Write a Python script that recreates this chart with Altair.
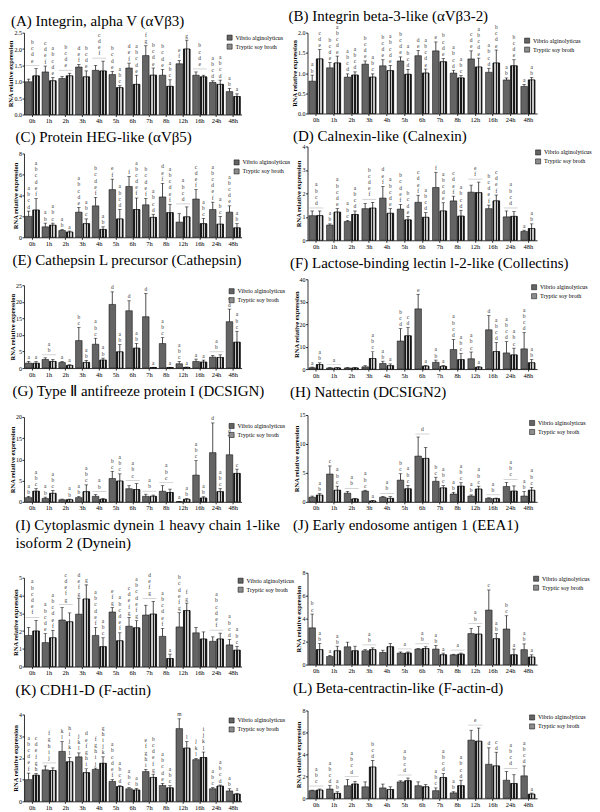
import altair as alt
import pandas as pd

FONT = "Liberation Serif"
HOURS = ["0h", "1h", "2h", "3h", "4h", "5h", "6h", "7h", "8h", "12h", "16h", "24h", "48h"]
SERIES = ["Vibrio alginolyticus", "Tryptic soy broth"]
SERIES_COLORS = ["#646464", "#8c8c8c"]

# ---------------- (A) ----------------
A_title = "(A) Integrin, alpha V (αVβ3)"
A_ticks = [0.0, 0.5, 1.0, 1.5, 2.0, 2.5]
A_vib = [1.0, 1.3, 1.1, 1.45, 1.35, 1.22, 1.42, 1.8, 1.2, 1.55, 1.2, 0.98, 0.7]
A_vib_err = [0.08, 0.18, 0.06, 0.08, 0.15, 0.1, 0.15, 0.3, 0.18, 0.1, 0.1, 0.05, 0.1]
A_tsb = [1.18, 1.03, 1.18, 1.15, 1.33, 0.82, 0.92, 1.2, 0.86, 2.0, 1.15, 0.92, 0.55]
A_tsb_err = [0.22, 0.1, 0.08, 0.18, 0.3, 0.06, 0.28, 0.22, 0.2, 0.27, 0.05, 0.13, 0.08]
A_let_v = ["", "cdef", "", "def", "", "bcde", "def", "fg", "bcde", "ef", "", "abcd", "ab"]
A_let_t = ["", "abcde", "", "bcde", "", "abc", "abcde", "bcde", "abc", "g", "", "abcd", "a"]
A_let_both = ["bcde", "", "bcde", "", "cdef", "", "", "", "", "", "bcde", "", ""]

# ---------------- (B) ----------------
B_title = "(B) Integrin beta-3-like (αVβ3-2)"
B_ticks = [0.0, 0.5, 1.0, 1.5, 2.0]
B_vib = [0.8, 1.13, 0.9, 1.22, 1.18, 1.3, 1.43, 1.55, 1.0, 1.35, 1.02, 0.83, 0.67]
B_vib_err = [0.15, 0.13, 0.08, 0.08, 0.15, 0.1, 0.13, 0.22, 0.07, 0.2, 0.1, 0.05, 0.05]
B_tsb = [1.35, 1.25, 0.95, 0.9, 1.06, 0.97, 1.0, 1.28, 0.88, 1.15, 1.25, 1.18, 0.83]
B_tsb_err = [0.23, 0.17, 0.08, 0.08, 0.13, 0.12, 0.1, 0.08, 0.06, 0.22, 0.32, 0.15, 0.06]
B_let_v = ["ab", "bcde", "abcd", "bcde", "bcde", "bcde", "de", "e", "abcd", "cde", "abcd", "ab", "a"]
B_let_t = ["cde", "abcde", "abcd", "abc", "abcde", "abcd", "abcde", "bcde", "abc", "abcde", "bcde", "bcde", "ab"]
B_let_both = [""] * 13

# ---------------- (C) ----------------
C_title = "(C) Protein HEG-like (αVβ5)"
C_ticks = [0, 2, 4, 6, 8]
C_vib = [2.0, 1.0, 0.65, 2.4, 3.0, 4.55, 4.85, 3.1, 3.85, 1.45, 3.65, 2.65, 2.4]
C_vib_err = [0.5, 0.35, 0.1, 0.45, 0.8, 1.0, 0.95, 0.6, 1.3, 0.8, 0.9, 0.7, 0.6]
C_tsb = [2.6, 1.15, 0.5, 1.3, 0.75, 1.75, 2.65, 1.9, 2.35, 1.95, 1.3, 1.25, 0.9]
C_tsb_err = [1.1, 0.2, 0.1, 0.45, 0.25, 0.9, 1.1, 0.3, 0.8, 0.95, 0.5, 0.75, 0.4]
C_let_v = ["abcd", "ab", "ab", "abcde", "bcdef", "ef", "f", "bcdef", "def", "", "cdef", "abcdef", "abcde"]
C_let_t = ["abcdef", "abc", "a", "abc", "ab", "abcd", "abcdef", "abcd", "abcdef", "", "abc", "abc", "ab"]
C_let_both = ["", "", "", "", "", "", "", "", "", "abcd", "", "", ""]

# ---------------- (D) ----------------
D_title = "(D) Calnexin-like (Calnexin)"
D_ticks = [0, 1, 2, 3, 4]
D_vib = [1.05, 0.65, 0.8, 1.35, 1.8, 1.33, 1.62, 2.25, 1.68, 2.05, 1.35, 1.0, 0.38]
D_vib_err = [0.2, 0.05, 0.05, 0.22, 0.5, 0.2, 0.3, 0.65, 0.2, 0.3, 0.15, 0.25, 0.05]
D_tsb = [1.05, 1.2, 1.1, 1.37, 1.15, 0.87, 0.98, 1.25, 1.03, 2.03, 1.68, 1.02, 0.5]
D_tsb_err = [0.2, 0.15, 0.15, 0.25, 0.2, 0.15, 0.2, 0.35, 0.25, 0.45, 0.25, 0.2, 0.2]
D_let_v = ["", "ab", "abc", "", "def", "bcdef", "cdef", "f", "cdef", "", "bcdef", "", "a"]
D_let_t = ["", "abcde", "abcd", "", "abcde", "bcde", "abcd", "abcde", "abcd", "", "cdef", "", "ab"]
D_let_both = ["abcd", "", "", "bcdef", "", "", "", "", "", "ef", "", "abcd", ""]

# ---------------- (E) ----------------
E_title = "(E) Cathepsin L precursor (Cathepsin)"
E_ticks = [0, 5, 10, 15, 20, 25]
E_vib = [1.5, 2.6, 1.7, 8.3, 7.2, 19.2, 17.3, 15.5, 7.4, 1.3, 2.0, 3.3, 14.0]
E_vib_err = [0.5, 0.5, 0.3, 4.0, 1.8, 3.8, 3.0, 7.0, 1.8, 0.7, 0.7, 0.5, 3.8]
E_tsb = [1.45, 2.0, 0.8, 1.7, 2.4, 4.9, 6.0, 0.15, 0.15, 0.2, 1.8, 3.2, 7.8]
E_tsb_err = [0.5, 0.6, 0.2, 0.6, 0.6, 2.2, 1.4, 0.1, 0.1, 0.1, 0.6, 0.8, 3.3]
E_let_v = ["a", "", "a", "bc", "abc", "d", "d", "d", "abc", "abc", "a", "", "cd"]
E_let_t = ["a", "", "a", "ab", "ab", "ab", "ab", "a", "a", "a", "a", "", "abc"]
E_let_both = ["", "ab", "", "", "", "", "", "", "", "", "", "ab", ""]

# ---------------- (F) ----------------
F_title = "(F) Lactose-binding lectin l-2-like (Collectins)"
F_ticks = [0, 10, 20, 30, 40]
F_vib = [0.6, 0.5, 0.5, 1.0, 2.5, 12.5, 26.8, 3.0, 8.7, 4.6, 17.5, 7.2, 9.0]
F_vib_err = [0.3, 0.2, 0.2, 0.5, 1.0, 5.5, 6.5, 1.0, 4.5, 3.0, 6.3, 5.0, 7.2]
F_tsb = [2.0, 0.5, 0.5, 4.7, 1.5, 14.8, 1.3, 1.2, 4.2, 0.8, 7.8, 6.3, 2.8]
F_tsb_err = [0.8, 0.2, 0.2, 3.0, 0.8, 3.8, 0.3, 0.4, 2.7, 0.3, 4.0, 3.0, 1.5]
F_let_v = ["a", "", "", "", "ab", "bcd", "e", "ab", "abcd", "abc", "d", "abcd", "abcd"]
F_let_t = ["ab", "", "", "abc", "a", "cd", "a", "a", "abc", "a", "abcd", "abc", "ab"]
F_let_both = ["", "a", "", "", "", "", "", "", "", "", "", "", ""]

# ---------------- (G) ----------------
G_title = "(G) Type Ⅱ antifreeze protein I (DCSIGN)"
G_ticks = [0, 5, 10, 15, 20]
G_vib = [1.0, 0.8, 0.5, 1.0, 1.3, 5.5, 3.1, 1.3, 2.5, 0.05, 6.3, 11.6, 11.1]
G_vib_err = [0.3, 0.3, 0.15, 0.3, 0.4, 1.7, 0.7, 0.5, 1.3, 0.05, 3.4, 7.0, 4.5]
G_tsb = [2.5, 2.0, 0.5, 2.4, 0.6, 4.9, 2.9, 1.3, 2.2, 0.6, 0.9, 2.4, 6.7]
G_tsb_err = [0.6, 0.7, 0.15, 1.6, 0.2, 1.7, 1.4, 0.3, 0.8, 0.2, 0.3, 0.7, 1.0]
G_let_v = ["ab", "ab", "", "ab", "", "bc", "", "", "", "a", "abc", "d", "d"]
G_let_t = ["abc", "abc", "ab", "abc", "", "abc", "", "", "", "ab", "ab", "abc", "c"]
G_let_both = ["", "", "", "", "ab", "", "abc", "ab", "abc", "", "", "", ""]

# ---------------- (H) ----------------
H_title = "(H) Nattectin (DCSIGN2)"
H_ticks = [0, 5, 10, 15]
H_vib = [0.8, 4.8, 1.5, 1.85, 0.8, 3.75, 7.9, 3.55, 1.35, 1.0, 0.6, 2.65, 1.0]
H_vib_err = [0.2, 1.4, 0.3, 0.15, 0.15, 1.1, 3.3, 0.7, 0.3, 0.2, 0.1, 0.7, 0.8]
H_tsb = [1.15, 2.0, 0.5, 0.15, 0.6, 2.25, 7.5, 2.4, 2.7, 2.2, 0.55, 1.85, 2.0]
H_tsb_err = [0.3, 0.7, 0.1, 0.1, 0.3, 0.6, 1.9, 0.4, 0.6, 0.5, 0.1, 0.9, 0.5]
H_let_v = ["", "c", "", "abc", "", "bc", "", "bc", "ab", "ab", "", "", "ab"]
H_let_t = ["ab", "abc", "", "a", "", "abc", "", "abc", "abc", "abc", "", "", "abc"]
H_let_both = ["", "", "ab", "", "ab", "", "d", "", "", "", "ab", "abc", ""]

# ---------------- (I) ----------------
I_title = ["(I) Cytoplasmic dynein 1 heavy chain 1-like", "isoform 2 (Dynein)"]
I_ticks = [0, 1, 2, 3, 4, 5]
I_vib = [1.75, 1.35, 2.62, 2.95, 1.75, 3.07, 2.27, 2.9, 1.7, 2.23, 1.9, 1.42, 1.22]
I_vib_err = [0.45, 0.5, 0.7, 0.9, 0.45, 0.25, 0.5, 0.55, 0.45, 0.8, 0.3, 0.25, 0.3]
I_tsb = [2.0, 1.62, 2.52, 3.8, 1.12, 1.45, 2.18, 2.95, 0.45, 3.15, 1.55, 1.55, 0.92]
I_tsb_err = [0.6, 0.42, 0.5, 0.8, 0.5, 0.45, 0.4, 0.72, 0.25, 0.42, 0.4, 0.33, 0.22]
I_let_v = ["", "abcde", "", "defg", "abcdef", "efg", "cdefg", "", "abcdef", "bcdefg", "", "", "abcd"]
I_let_t = ["", "abcdef", "", "g", "abc", "abcdef", "abcdefg", "", "a", "fg", "", "", "abc"]
I_let_both = ["abcdef", "", "cdefg", "", "", "", "", "defg", "", "", "", "abcdef", ""]

# ---------------- (J) ----------------
J_title = "(J) Early endosome antigen 1 (EEA1)"
J_ticks = [0, 2, 4, 6, 8]
J_vib = [3.2, 0.7, 1.55, 1.2, 1.05, 1.0, 1.35, 1.35, 0.85, 2.7, 4.75, 3.1, 1.3]
J_vib_err = [1.2, 0.1, 0.4, 0.1, 0.2, 0.1, 0.05, 0.3, 0.05, 0.45, 1.75, 1.15, 0.5]
J_tsb = [1.3, 1.2, 1.2, 1.3, 1.55, 1.0, 1.4, 0.85, 0.9, 2.65, 2.25, 0.85, 0.65]
J_tsb_err = [0.55, 0.4, 0.4, 0.15, 0.3, 0.1, 0.15, 0.15, 0.1, 0.65, 0.45, 0.5, 0.2]
J_let_v = ["bc", "a", "", "", "", "", "", "ab", "", "", "c", "bc", "ab"]
J_let_t = ["ab", "ab", "", "", "", "", "", "a", "", "", "ab", "a", "a"]
J_let_both = ["", "", "", "ab", "", "a", "ab", "", "a", "ab", "", "", ""]

# ---------------- (K) ----------------
K_title = "(K) CDH1-D (F-actin)"
K_ticks = [0, 1, 2, 3, 4]
K_vib = [1.0, 1.45, 2.3, 2.05, 1.47, 0.92, 0.58, 1.37, 0.73, 3.35, 1.92, 0.58, 0.48]
K_vib_err = [0.3, 0.18, 0.45, 0.18, 0.06, 0.08, 0.05, 0.1, 0.1, 0.45, 0.06, 0.05, 0.1]
K_tsb = [1.2, 1.42, 1.82, 1.32, 1.75, 0.68, 0.52, 1.1, 0.62, 2.45, 2.02, 0.7, 0.33]
K_tsb_err = [0.08, 0.12, 0.2, 0.18, 0.3, 0.04, 0.07, 0.15, 0.1, 0.3, 0.25, 0.05, 0.04]
K_let_v = ["abcdef", "", "kl", "jkl", "fghij", "abcdef", "abc", "efghi", "abcde", "m", "jkl", "abc", "ab"]
K_let_t = ["cdefgh", "", "hijkl", "defghi", "ghijk", "abcd", "ab", "bcdefg", "abc", "l", "ijkl", "abcd", "a"]
K_let_both = ["", "fghij", "", "", "", "", "", "", "", "", "", "", ""]

# ---------------- (L) ----------------
L_title = "(L) Beta-centractin-like (F-actin-d)"
L_ticks = [0, 2, 4, 6, 8]
L_vib = [0.7, 0.85, 1.15, 1.05, 0.95, 1.5, 1.15, 0.7, 0.5, 5.3, 3.1, 1.65, 2.05]
L_vib_err = [0.05, 0.3, 0.55, 0.45, 0.35, 0.1, 0.35, 0.25, 0.1, 0.9, 1.5, 0.8, 0.9]
L_tsb = [0.75, 0.45, 1.3, 2.85, 0.8, 1.6, 1.05, 1.9, 1.15, 5.2, 2.95, 1.35, 0.38]
L_tsb_err = [0.1, 0.15, 0.25, 0.6, 0.25, 0.25, 0.2, 0.35, 0.5, 1.2, 1.25, 0.8, 0.1]
L_let_v = ["", "abcd", "", "", "", "", "", "abc", "ab", "", "d", "", "abcd"]
L_let_t = ["", "ab", "", "bcd", "", "", "", "abcd", "abcd", "", "cd", "", "a"]
L_let_both = ["abc", "", "abcd", "", "", "abcd", "", "", "", "e", "", "abcd", ""]

LINE_H = 6.2  # vertical spacing of stacked significance letters (px)

# striped fill standing in for the checkered "Tryptic soy broth" pattern
N_STRIPES = 5
stripe_stops = []
for k in range(N_STRIPES):
    col = "#1a1a1a" if k % 2 == 0 else "#c4c4c4"
    stripe_stops.append(alt.GradientStop(offset=k / N_STRIPES, color=col))
    stripe_stops.append(alt.GradientStop(offset=(k + 1) / N_STRIPES - 0.001, color=col))
STRIPES = alt.LinearGradient(gradient="linear", stops=stripe_stops, x1=0, x2=1, y1=0, y2=0)


def letter_rows(hour, series, top, letters, unit, gap):
    out = []
    n = len(letters)
    for j, ch in enumerate(letters):
        k = n - 1 - j
        out.append({"hour": hour, "series": series, "ly": top + (gap + k * LINE_H) * unit, "ch": ch})
    return out


def make_panel(title, ticks, fmt, vib, vib_err, tsb, tsb_err, let_v, let_t, let_both,
               width, height, lx, ly, toff, tdx):
    unit = (ticks[-1] - ticks[0]) / height  # data units per pixel
    rows, lets, both_rows, both_lets = [], [], [], []
    for i, h in enumerate(HOURS):
        tv = vib[i] + vib_err[i]
        tt = tsb[i] + tsb_err[i]
        rows.append({"hour": h, "series": SERIES[0], "value": vib[i], "top": tv})
        rows.append({"hour": h, "series": SERIES[1], "value": tsb[i], "top": tt})
        lets += letter_rows(h, SERIES[0], tv, let_v[i], unit, 1.5)
        lets += letter_rows(h, SERIES[1], tt, let_t[i], unit, 1.5)
        if let_both[i]:
            m = max(tv, tt)
            both_rows.append({"hour": h, "ly": m + 3 * unit})
            both_lets += letter_rows(h, "", m, let_both[i], unit, 5)
    df = pd.DataFrame(rows)

    xenc = alt.X("hour:N", sort=HOURS,
                 scale=alt.Scale(domain=HOURS, paddingInner=0.16, paddingOuter=0.08),
                 axis=alt.Axis(title=None, labelAngle=0))
    xo = alt.XOffset("series:N", sort=SERIES, scale=alt.Scale(domain=SERIES, paddingInner=0.12))

    def yenc(field):
        return alt.Y(field + ":Q",
                     scale=alt.Scale(domain=[ticks[0], ticks[-1]], nice=False),
                     axis=alt.Axis(values=ticks, format=fmt, title="RNA relative expression"))

    base = alt.Chart(df)
    bars = base.mark_bar(stroke="black", strokeWidth=0.5).encode(
        x=xenc, xOffset=xo, y=yenc("value"),
        fill=alt.Fill("series:N", sort=SERIES,
                      scale=alt.Scale(domain=SERIES, range=SERIES_COLORS),
                      legend=alt.Legend(title=None, orient="none", legendX=lx, legendY=ly,
                                        labelFont=FONT, labelFontSize=6, labelColor="black",
                                        symbolType="square", symbolSize=26,
                                        symbolStrokeColor="black", symbolStrokeWidth=0.5,
                                        rowPadding=1, labelOffset=3, padding=0)),
    )
    tsb_bars = base.transform_filter(alt.datum.series == SERIES[1]).mark_bar(
        fill=STRIPES, stroke="black", strokeWidth=0.5).encode(x=xenc, xOffset=xo, y=yenc("value"))
    rule = base.mark_rule(color="black", strokeWidth=0.7).encode(
        x=xenc, xOffset=xo, y=yenc("value"), y2="top:Q")
    cap = base.mark_tick(orient="horizontal", color="black", size=3.5, thickness=0.7).encode(
        x=xenc, xOffset=xo, y=yenc("top"))
    layers = [bars, tsb_bars, rule, cap]
    if lets:
        txt = alt.Chart(pd.DataFrame(lets)).mark_text(
            baseline="bottom", font=FONT, fontSize=5.5, color="#333333").encode(
            x=xenc, xOffset=xo, y=yenc("ly"), text="ch:N")
        layers.append(txt)
    if both_rows:
        bline = alt.Chart(pd.DataFrame(both_rows)).mark_tick(
            orient="horizontal", color="#a8a8a8", size=14, thickness=0.7).encode(x=xenc, y=yenc("ly"))
        btxt = alt.Chart(pd.DataFrame(both_lets)).mark_text(
            baseline="bottom", font=FONT, fontSize=5.5, color="#333333").encode(
            x=xenc, y=yenc("ly"), text="ch:N")
        layers += [bline, btxt]
    return alt.layer(*layers).properties(
        width=width, height=height,
        title=alt.Title(title, anchor="start", frame="bounds", font=FONT, fontSize=15,
                        fontWeight="normal", color="black", offset=toff, lineHeight=18, dx=tdx),
    )


LW, RW = 218, 230
pA = make_panel(A_title, A_ticks, ".1f", A_vib, A_vib_err, A_tsb, A_tsb_err, A_let_v, A_let_t, A_let_both, LW, 82, 203, 2, 1, 3)
pC = make_panel(C_title, C_ticks, "d", C_vib, C_vib_err, C_tsb, C_tsb_err, C_let_v, C_let_t, C_let_both, LW, 84, 210, 6, 5, 3)
pE = make_panel(E_title, E_ticks, "d", E_vib, E_vib_err, E_tsb, E_tsb_err, E_let_v, E_let_t, E_let_both, LW, 83, 205, 3, 14, 3)
pG = make_panel(G_title, G_ticks, "d", G_vib, G_vib_err, G_tsb, G_tsb_err, G_let_v, G_let_t, G_let_both, LW, 85, 205, 6, 15, 3)
pI = make_panel(I_title, I_ticks, "d", I_vib, I_vib_err, I_tsb, I_tsb_err, I_let_v, I_let_t, I_let_both, LW, 89, 214, 0, 22, 3)
pK = make_panel(K_title, K_ticks, "d", K_vib, K_vib_err, K_tsb, K_tsb_err, K_let_v, K_let_t, K_let_both, LW, 87, 205, 3, 14, 3)

pB = make_panel(B_title, B_ticks, ".1f", B_vib, B_vib_err, B_tsb, B_tsb_err, B_let_v, B_let_t, B_let_both, RW, 81, 217, 5, 1, -3)
pD = make_panel(D_title, D_ticks, "d", D_vib, D_vib_err, D_tsb, D_tsb_err, D_let_v, D_let_t, D_let_both, RW, 94, 228, 3, -1, -3)
pF = make_panel(F_title, F_ticks, "d", F_vib, F_vib_err, F_tsb, F_tsb_err, F_let_v, F_let_t, F_let_both, RW, 90, 224, 5, 5, -3)
pH = make_panel(H_title, H_ticks, "d", H_vib, H_vib_err, H_tsb, H_tsb_err, H_let_v, H_let_t, H_let_both, RW, 87, 222, 5, 12, -3)
pJ = make_panel(J_title, J_ticks, "d", J_vib, J_vib_err, J_tsb, J_tsb_err, J_let_v, J_let_t, J_let_both, RW, 92, 226, 3, 37, -3)
pL = make_panel(L_title, L_ticks, "d", L_vib, L_vib_err, L_tsb, L_tsb_err, L_let_v, L_let_t, L_let_both, RW, 88, 222, 4, 12, -3)

left = alt.vconcat(pA, pC, pE, pG, pI, pK, spacing=6).resolve_scale(
    y="independent", x="independent", fill="independent").resolve_legend(fill="independent")
right = alt.vconcat(pB, pD, pF, pH, pJ, pL, spacing=6).resolve_scale(
    y="independent", x="independent", fill="independent").resolve_legend(fill="independent")

chart = alt.hconcat(left, right, spacing=-6).resolve_scale(
    y="independent", x="independent", fill="independent").resolve_legend(fill="independent").properties(
    padding={"left": 0, "top": 0, "right": 0, "bottom": 0}
).configure_view(stroke=None).configure_axis(
    grid=False, domainColor="black", tickColor="black", labelColor="black", titleColor="black",
    labelFont=FONT, titleFont=FONT, domainWidth=0.8, tickWidth=0.8, tickSize=2,
).configure_axisY(
    titleFontSize=6.5, titleFontWeight="bold", labelFontSize=6, labelPadding=0.5, titlePadding=0,
).configure_axisX(
    labelFontSize=6.5, labelPadding=1,
)

chart.save("out.html", embed_options={"renderer": "svg", "actions": False})
